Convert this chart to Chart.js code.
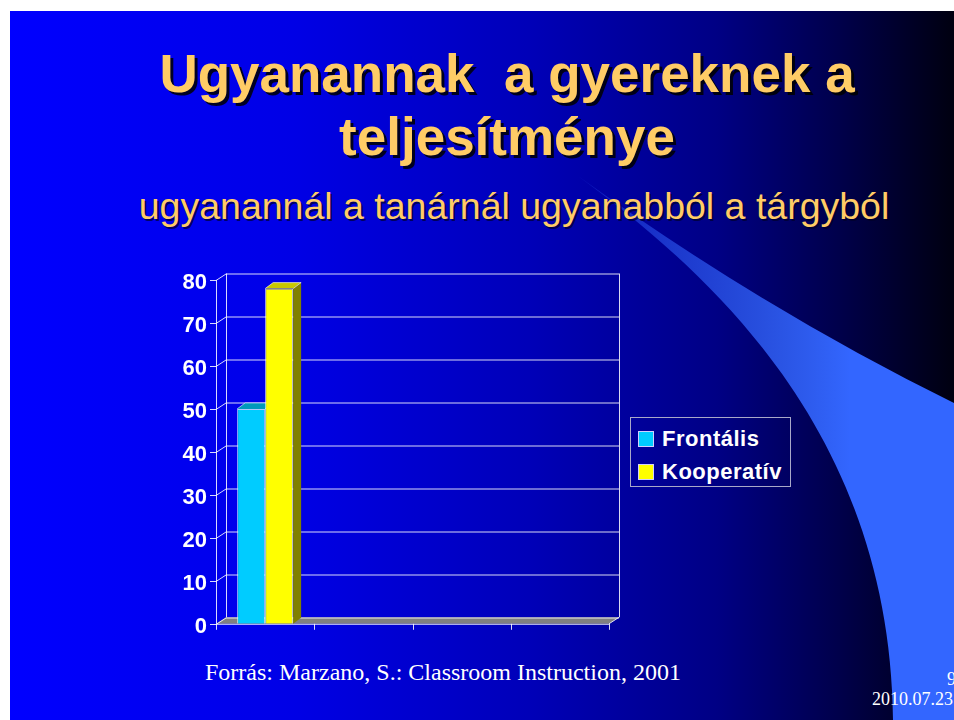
<!DOCTYPE html>
<html>
<head>
<meta charset="utf-8">
<title>Ugyanannak a gyereknek a teljesítménye</title>
<script src="https://cdn.jsdelivr.net/npm/chart.js"></script>
<style>
  html, body { margin: 0; padding: 0; background: #fff; }
  body { width: 954px; height: 720px; position: relative; overflow: hidden; }
  #slide { position: absolute; left: 10px; top: 11px; width: 944px; height: 709px; overflow: hidden;
    background: linear-gradient(to right, #0000ff 0%, #0000e6 30%, #0000b8 55%, #000084 75%, #00004a 88%, #000010 100%); }
  #deco { position: absolute; left: 0; top: 0; }
  .txt { position: absolute; white-space: pre; }
  #title { left: 60px; width: 894px; top: 42px; text-align: center; font: bold 53px 'Liberation Sans', Arial, sans-serif;
    line-height: 63px; color: #ffcc66; text-shadow: 3px 3px 0 rgba(0,0,0,0.85); }
  #subtitle { left: 74px; width: 880px; top: 188px; text-align: center; font: 37.5px 'Liberation Sans', Arial, sans-serif;
    line-height: 1; color: #ffcc66; text-shadow: 2px 2px 0 rgba(0,0,40,0.7); }
  #source { left: 205px; top: 660px; font: 24px 'Liberation Serif', 'Times New Roman', serif; line-height: 1; color: #fff; }
  #page { left: 947px; top: 670px; font: 18px 'Liberation Serif', 'Times New Roman', serif; line-height: 1; color: #fff; }
  #date { right: 1px; top: 690px; font: 18px 'Liberation Serif', 'Times New Roman', serif; line-height: 1; color: #fff; }
  #wrap { position: absolute; left: 150px; top: 260px; width: 480px; height: 380px; }
  #legend { position: absolute; left: 630px; top: 417px; width: 159px; height: 68px; border: 1px solid #a8a8c8; }
  #legend div { position: absolute; left: 7px; height: 24px; font: bold 22px 'Liberation Sans', Arial, sans-serif; letter-spacing: 0.5px;
    color: #fff; line-height: 24px; }
  #legend span { display: inline-block; width: 14px; height: 14px; border: 1px solid #d0d0ff; margin-right: 8px; vertical-align: -1px; }
</style>
</head>
<body>
<div id="slide"></div>
<svg id="deco" width="954" height="720">
  <defs>
    <linearGradient id="sw" gradientUnits="userSpaceOnUse" x1="578" y1="0" x2="850" y2="0">
      <stop offset="0" stop-color="#3366ff" stop-opacity="0.25"/>
      <stop offset="0.35" stop-color="#3366ff" stop-opacity="0.55"/>
      <stop offset="1" stop-color="#3366ff" stop-opacity="1"/>
    </linearGradient>
    <clipPath id="sl"><rect x="10" y="11" width="944" height="709"/></clipPath>
  </defs>
  <path clip-path="url(#sl)" fill="url(#sw)" d="M578,176 C720,280 890,440 893,720 L954,720 L954,403 Q766,311 578,176 Z"/>
</svg>

<div class="txt" id="title">Ugyanannak  a gyereknek a
teljesítménye</div>
<div class="txt" id="subtitle">ugyanannál a tanárnál ugyanabból a tárgyból</div>

<div id="wrap"><canvas id="chart"></canvas></div>
<div id="legend"></div>

<div class="txt" id="source">Forrás: Marzano, S.: Classroom Instruction, 2001</div>
<div class="txt" id="page">9</div>
<div class="txt" id="date">2010.07.23</div>

<script>
// data
const categories = ['', '', '', ''];
const seriesNames = ['Frontális', 'Kooperatív'];
const frontalis = [50, null, null, null];
const kooperativ = [78, null, null, null];
const yTicks = { min: 0, max: 80, step: 10 };

// colours: front face, top face, side face
const faces = [
  { front: '#00ccff', top: '#0099bb', side: '#0088aa' },
  { front: '#ffff00', top: '#c8c800', side: '#808000' }
];

// depth of the walls and of the bars
const WDX = 10, WDY = 6.5;
const BDX = 8, BDY = 6;

function line(ctx, x1, y1, x2, y2)
{
  ctx.beginPath();
  ctx.moveTo(x1, y1);
  ctx.lineTo(x2, y2);
  ctx.stroke();
}

function poly(ctx, pts, fill)
{
  ctx.beginPath();
  ctx.moveTo(pts[0][0], pts[0][1]);
  for (let i = 1; i < pts.length; i++)
  {
    ctx.lineTo(pts[i][0], pts[i][1]);
  }
  ctx.closePath();
  ctx.fillStyle = fill;
  ctx.fill();
}

// {{{ walls, floor and bar depth, drawn behind the front faces
const depth3d =
{
  id: 'depth3d',
  beforeDatasetsDraw(chart)
  {
    const ctx = chart.ctx;
    const a = chart.chartArea;
    const ys = chart.scales.y;
    const xs = chart.scales.x;
    ctx.save();
    ctx.lineWidth = 1;

    // floor
    poly(ctx, [[a.left, a.bottom], [a.right, a.bottom], [a.right + WDX, a.bottom - WDY], [a.left + WDX, a.bottom - WDY]], '#808080');
    ctx.strokeStyle = 'rgba(255,255,255,0.85)';
    line(ctx, a.left, a.bottom + 0.5, a.right, a.bottom + 0.5);
    line(ctx, a.right, a.bottom, a.right + WDX, a.bottom - WDY);

    // grid on the back wall and diagonals on the side wall
    ys.ticks.forEach((t) =>
    {
      const py = Math.round(ys.getPixelForValue(t.value)) + 0.5;
      line(ctx, a.left + WDX, py - WDY, a.right + WDX, py - WDY);
      line(ctx, a.left, py, a.left + WDX, py - WDY);
      line(ctx, a.left - 6, py, a.left, py);
    });
    line(ctx, a.left + WDX + 0.5, a.top - WDY, a.left + WDX + 0.5, a.bottom - WDY);
    line(ctx, a.right + WDX + 0.5, a.top - WDY, a.right + WDX + 0.5, a.bottom - WDY);
    line(ctx, a.left + 0.5, a.top, a.left + 0.5, a.bottom);

    // category boundaries under the floor
    const n = categories.length;
    const slot = n > 1 ? xs.getPixelForValue(1) - xs.getPixelForValue(0) : a.right - a.left;
    for (let i = 0; i <= n; i++)
    {
      const px = Math.round(xs.getPixelForValue(0) - slot / 2 + i * slot) + 0.5;
      line(ctx, px, a.bottom, px, a.bottom + 6);
    }

    // top and side faces of the bars
    chart.data.datasets.forEach((ds, di) =>
    {
      const meta = chart.getDatasetMeta(di);
      meta.data.forEach((el, i) =>
      {
        if (ds.data[i] === null)
        {
          return;
        }
        const p = el.getProps(['x', 'y', 'width', 'base'], true);
        const l = p.x - p.width / 2;
        const r = p.x + p.width / 2;
        poly(ctx, [[r, p.y], [r + BDX, p.y - BDY], [r + BDX, p.base - BDY], [r, p.base]], faces[di].side);
        poly(ctx, [[l, p.y], [l + BDX, p.y - BDY], [r + BDX, p.y - BDY], [r, p.y]], faces[di].top);
        ctx.strokeStyle = 'rgba(255,255,255,0.6)';
        line(ctx, l, p.y, l + BDX, p.y - BDY);
        line(ctx, r, p.y, r + BDX, p.y - BDY);
        line(ctx, l + BDX, p.y - BDY, r + BDX, p.y - BDY);
      });
    });
    ctx.restore();
  }
};
// }}}

const chart = new Chart(document.getElementById('chart'),
{
  type: 'bar',
  data:
  {
    labels: categories,
    datasets:
    [
      { label: seriesNames[0], data: frontalis, backgroundColor: faces[0].front, borderColor: 'rgba(220,250,255,0.8)', borderWidth: 1 },
      { label: seriesNames[1], data: kooperativ, backgroundColor: faces[1].front, borderColor: 'rgba(255,255,220,0.8)', borderWidth: 1 }
    ]
  },
  options:
  {
    responsive: true,
    maintainAspectRatio: false,
    animation: false,
    categoryPercentage: 0.57,
    barPercentage: 1.0,
    layout: { padding: { left: 0, top: 20, right: 21, bottom: 14 } },
    plugins: { legend: { display: false }, tooltip: { enabled: false } },
    scales:
    {
      x: { display: false },
      y:
      {
        min: yTicks.min,
        max: yTicks.max,
        grid: { display: false, drawTicks: true, tickLength: 6 },
        border: { display: false },
        ticks: { stepSize: yTicks.step, color: '#ffffff', padding: 3, labelOffset: 3, font: { family: "'Liberation Sans', Arial, sans-serif", size: 22, weight: 'bold' } },
        afterFit: (s) => { s.width = 66; }
      }
    }
  },
  plugins: [depth3d]
});

// legend from the chart's own datasets
const lg = document.getElementById('legend');
chart.data.datasets.forEach((ds, i) =>
{
  const d = document.createElement('div');
  d.style.top = (9 + i * 33) + 'px';
  const sw = document.createElement('span');
  sw.style.background = ds.backgroundColor;
  d.appendChild(sw);
  d.appendChild(document.createTextNode(ds.label));
  lg.appendChild(d);
});
</script>
</body>
</html>
